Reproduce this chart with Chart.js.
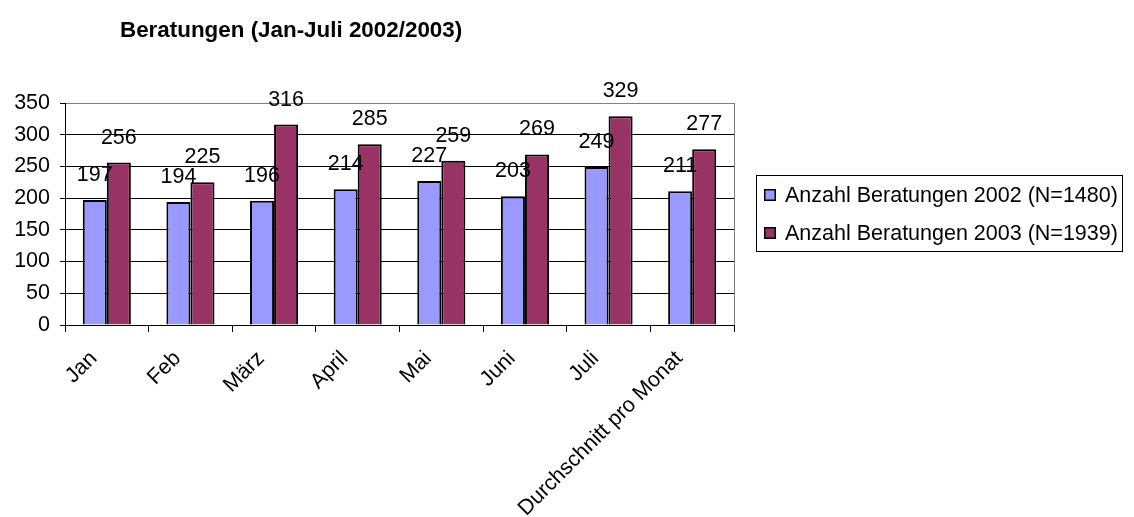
<!DOCTYPE html>
<html>
<head>
<meta charset="utf-8">
<title>Beratungen</title>
<script src="https://cdn.jsdelivr.net/npm/chart.js@4/dist/chart.umd.min.js"></script>
<style>
  html, body { margin: 0; padding: 0; background: #fff; }
</style>
</head>
<body>
<canvas id="beratungenChart" width="1134" height="517"></canvas>
<script>
const chartTitle = 'Beratungen (Jan-Juli 2002/2003)';
const months = ['Jan', 'Feb', 'März', 'April', 'Mai', 'Juni', 'Juli', 'Durchschnitt pro Monat'];
const seriesNames = ['Anzahl Beratungen 2002 (N=1480)', 'Anzahl Beratungen 2003 (N=1939)'];
const beratungen2002 = [197, 194, 196, 214, 227, 203, 249, 211];
const beratungen2003 = [256, 225, 316, 285, 259, 269, 329, 277];
const yTicks = [0, 50, 100, 150, 200, 250, 300, 350];

const FONT = "'Liberation Sans', Arial, sans-serif";
const FONT_SIZE = 21.5;
Chart.defaults.font.family = FONT;
Chart.defaults.font.size = FONT_SIZE;
Chart.defaults.color = '#000';

// title sits left-aligned over the plot, not centred on the canvas
const titlePlugin = {
    id: 'leftTitle',
    afterDraw(chart) {
        const ctx = chart.ctx;
        ctx.save();
        ctx.font = "bold 22.4px " + FONT;
        ctx.fillStyle = '#000';
        ctx.textBaseline = 'alphabetic';
        ctx.fillText(chartTitle, 120, 37);
        ctx.restore();
    }
};

// grey frame on the right side of the plot area
const plotFrame = {
    id: 'plotFrame',
    beforeDatasetsDraw(chart) {
        const {ctx, chartArea: a} = chart;
        ctx.save();
        ctx.strokeStyle = '#808080';
        ctx.lineWidth = 1;
        ctx.beginPath();
        ctx.moveTo(Math.round(a.right) + 0.5, a.top);
        ctx.lineTo(Math.round(a.right) + 0.5, a.bottom);
        ctx.stroke();
        ctx.restore();
    }
};

// value above every bar
const valueLabels = {
    id: 'valueLabels',
    afterDatasetsDraw(chart) {
        const ctx = chart.ctx;
        ctx.save();
        ctx.font = FONT_SIZE + "px " + FONT;
        ctx.fillStyle = '#000';
        ctx.textAlign = 'center';
        ctx.textBaseline = 'alphabetic';
        chart.data.datasets.forEach((ds, i) => {
            chart.getDatasetMeta(i).data.forEach((bar, j) => {
                ctx.fillText(String(ds.data[j]), bar.x, bar.y - 19);
            });
        });
        ctx.restore();
    }
};

// boxed legend to the right of the plot; the built-in one gets squeezed
// to a quarter of the canvas width, so it is drawn here instead
const boxedLegend = {
    id: 'boxedLegend',
    afterDraw(chart) {
        const {ctx, chartArea: a} = chart;
        const sets = chart.data.datasets;
        const rowGap = 38;
        const mid = (a.top + a.bottom) / 2;
        const x0 = a.right + 22;
        const firstRow = mid - rowGap / 2;
        ctx.save();
        ctx.font = FONT_SIZE + "px " + FONT;
        ctx.textBaseline = 'middle';
        let textW = 0;
        sets.forEach(ds => { textW = Math.max(textW, ctx.measureText(ds.label).width); });
        const boxL = Math.round(x0) + 0.5;
        const boxT = Math.round(firstRow - 20) + 0.5;
        const boxR = Math.round(x0 + 29 + textW + 4) + 0.5;
        const boxB = Math.round(firstRow + rowGap * (sets.length - 1) + 18) + 0.5;
        ctx.fillStyle = '#fff';
        ctx.fillRect(boxL, boxT, boxR - boxL, boxB - boxT);
        ctx.strokeStyle = '#000';
        ctx.lineWidth = 1;
        ctx.strokeRect(boxL, boxT, boxR - boxL, boxB - boxT);
        sets.forEach((ds, i) => {
            const y = firstRow + i * rowGap;
            const sx = Math.round(x0 + 7.5);
            const sy = Math.round(y - 6);
            ctx.fillStyle = ds.backgroundColor;
            ctx.fillRect(sx, sy, 12, 12);
            ctx.strokeStyle = '#000';
            ctx.lineWidth = 1.5;
            ctx.strokeRect(sx + 0.75, sy + 0.75, 10.5, 10.5);
            ctx.fillStyle = '#000';
            ctx.fillText(ds.label, x0 + 29, y + 1);
        });
        ctx.restore();
    }
};

const ctx = document.getElementById('beratungenChart').getContext('2d');
new Chart(ctx, {
    type: 'bar',
    data: {
        labels: months,
        datasets: [{
            label: seriesNames[0],
            data: beratungen2002,
            backgroundColor: '#9999ff',
            borderColor: '#000',
            borderWidth: 2
        }, {
            label: seriesNames[1],
            data: beratungen2003,
            backgroundColor: '#993366',
            borderColor: '#000',
            borderWidth: 2
        }]
    },
    options: {
        responsive: false,
        animation: false,
        events: [],
        datasets: {
            bar: {
                categoryPercentage: 0.575,
                barPercentage: 1
            }
        },
        layout: {
            padding: { top: 103, right: 400, bottom: 0, left: 0 }
        },
        plugins: {
            title: { display: false },
            tooltip: { enabled: false },
            legend: { display: false }
        },
        scales: {
            x: {
                grid: {
                    display: true,
                    drawOnChartArea: false,
                    color: '#000',
                    tickLength: 7
                },
                border: { color: '#000', width: 1 },
                ticks: {
                    minRotation: 45,
                    maxRotation: 45,
                    autoSkip: false,
                    labelOffset: -13,
                    padding: 14
                },
                afterFit(scale) { scale.height = 192; }
            },
            y: {
                min: 0,
                max: 350,
                grid: {
                    color: c => (c.tick && c.tick.value === 350) ? '#808080' : '#000',
                    tickColor: '#000',
                    tickLength: 5
                },
                border: { color: '#000', width: 1 },
                ticks: { padding: 10 },
                afterBuildTicks(scale) { scale.ticks = yTicks.map(v => ({ value: v })); },
                afterFit(scale) { scale.width = 65; }
            }
        }
    },
    plugins: [titlePlugin, plotFrame, valueLabels, boxedLegend]
});
</script>
</body>
</html>
